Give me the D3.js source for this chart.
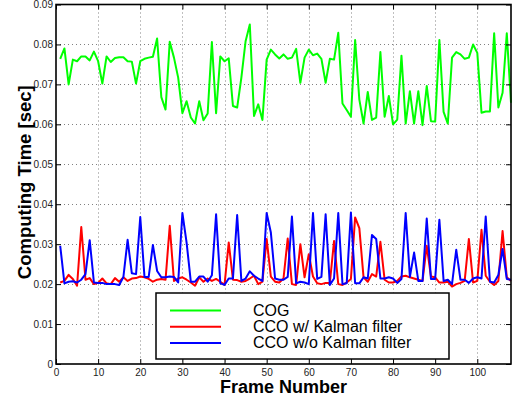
<!DOCTYPE html>
<html>
<head>
<meta charset="utf-8">
<script src="https://cdn.jsdelivr.net/npm/d3@7"></script>
<style>
  html, body { margin: 0; padding: 0; background: #fff; }
  svg { display: block; font-family: "Liberation Sans", Arial, Helvetica, sans-serif; }
</style>
</head>
<body>
<svg width="514" height="406"></svg>
<script>
// frame numbers 1..108
var frames = d3.range(1, 109);

var cog = [
  0.0764, 0.0790, 0.0700, 0.0762, 0.0758, 0.0770, 0.0770, 0.0760, 0.0782, 0.0758,
  0.0702, 0.0770, 0.0756, 0.0766, 0.0768, 0.0768, 0.0758, 0.0757, 0.0702, 0.0758,
  0.0764, 0.0767, 0.0769, 0.0815, 0.0668, 0.0637, 0.0807, 0.0767, 0.0717, 0.0628,
  0.0658, 0.0617, 0.0602, 0.0658, 0.0610, 0.0627, 0.0806, 0.0628, 0.0770, 0.0758,
  0.0765, 0.0646, 0.0642, 0.0717, 0.0808, 0.0850, 0.0621, 0.0650, 0.0611, 0.0762,
  0.0787, 0.0775, 0.0765, 0.0775, 0.0764, 0.0767, 0.0789, 0.0704, 0.0767, 0.0787,
  0.0773, 0.0777, 0.0764, 0.0704, 0.0764, 0.0762, 0.0829, 0.0652, 0.0636, 0.0619,
  0.0811, 0.0662, 0.0602, 0.0681, 0.0611, 0.0617, 0.0781, 0.0619, 0.0671, 0.0600,
  0.0612, 0.0772, 0.0602, 0.0683, 0.0602, 0.0683, 0.0598, 0.0696, 0.0608, 0.0607,
  0.0811, 0.0631, 0.0602, 0.0767, 0.0781, 0.0775, 0.0764, 0.0767, 0.0800, 0.0779,
  0.0629, 0.0632, 0.0632, 0.0828, 0.0642, 0.0679, 0.0828, 0.0654
];

var ccoKalman = [
  0.0204, 0.0208, 0.0223, 0.0213, 0.0196, 0.0343, 0.0211, 0.0215, 0.0200, 0.0203,
  0.0214, 0.0202, 0.0200, 0.0215, 0.0206, 0.0217, 0.0208, 0.0214, 0.0215, 0.0219,
  0.0217, 0.0213, 0.0206, 0.0211, 0.0213, 0.0211, 0.0346, 0.0208, 0.0214, 0.0217,
  0.0211, 0.0204, 0.0196, 0.0217, 0.0206, 0.0214, 0.0208, 0.0213, 0.0206, 0.0198,
  0.0304, 0.0211, 0.0210, 0.0206, 0.0208, 0.0214, 0.0221, 0.0200, 0.0206, 0.0313,
  0.0219, 0.0206, 0.0204, 0.0214, 0.0314, 0.0200, 0.0198, 0.0300, 0.0217, 0.0275,
  0.0219, 0.0202, 0.0200, 0.0203, 0.0203, 0.0308, 0.0200, 0.0198, 0.0204, 0.0213,
  0.0367, 0.0340, 0.0217, 0.0206, 0.0225, 0.0219, 0.0306, 0.0211, 0.0204, 0.0204,
  0.0208, 0.0219, 0.0221, 0.0217, 0.0214, 0.0211, 0.0208, 0.0296, 0.0219, 0.0217,
  0.0204, 0.0204, 0.0206, 0.0194, 0.0200, 0.0203, 0.0208, 0.0313, 0.0204, 0.0208,
  0.0336, 0.0221, 0.0206, 0.0198, 0.0208, 0.0333, 0.0217, 0.0208
];

var ccoNoKalman = [
  0.0296, 0.0202, 0.0206, 0.0207, 0.0204, 0.0211, 0.0225, 0.0310, 0.0204, 0.0203,
  0.0203, 0.0200, 0.0200, 0.0200, 0.0198, 0.0218, 0.0311, 0.0227, 0.0225, 0.0368,
  0.0218, 0.0218, 0.0298, 0.0233, 0.0217, 0.0217, 0.0219, 0.0218, 0.0204, 0.0378,
  0.0304, 0.0206, 0.0206, 0.0219, 0.0219, 0.0206, 0.0222, 0.0375, 0.0202, 0.0198,
  0.0214, 0.0214, 0.0373, 0.0208, 0.0214, 0.0232, 0.0221, 0.0214, 0.0208, 0.0378,
  0.0329, 0.0214, 0.0211, 0.0211, 0.0218, 0.0369, 0.0202, 0.0206, 0.0204, 0.0200,
  0.0378, 0.0213, 0.0218, 0.0375, 0.0198, 0.0214, 0.0378, 0.0200, 0.0202, 0.0379,
  0.0202, 0.0202, 0.0217, 0.0214, 0.0323, 0.0313, 0.0214, 0.0214, 0.0217, 0.0214,
  0.0203, 0.0213, 0.0378, 0.0218, 0.0279, 0.0208, 0.0208, 0.0364, 0.0213, 0.0213,
  0.0361, 0.0208, 0.0211, 0.0200, 0.0286, 0.0211, 0.0211, 0.0203, 0.0214, 0.0217,
  0.0214, 0.0369, 0.0206, 0.0204, 0.0223, 0.0288, 0.0213, 0.0211
];

var seriesNames = ["COG", "CCO w/ Kalman filter", "CCO w/o Kalman filter"];
var seriesColors = ["#00ff00", "#ff0000", "#0000ff"];

var xTicks = [0, 10, 20, 30, 40, 50, 60, 70, 80, 90, 100];
var yTicks = [0, 0.01, 0.02, 0.03, 0.04, 0.05, 0.06, 0.07, 0.08, 0.09];

var svg = d3.select("svg");
var plotLeft = 56, plotRight = 511, plotTop = 4.5, plotBottom = 364;

var x = d3.scaleLinear().domain([0, 108]).range([plotLeft, plotRight]);
var y = d3.scaleLinear().domain([0, 0.09]).range([plotBottom, plotTop]);

var yFmt = function(d) { return d === 0 ? "0" : d3.format(".2f")(d); };

// dotted grid
var grid = svg.append("g").attr("stroke", "#808080").attr("stroke-width", 1)
  .attr("stroke-dasharray", "1,3");
grid.selectAll(".gx").data(xTicks.slice(1)).enter().append("line")
  .attr("x1", d => Math.round(x(d)) + 0.5).attr("x2", d => Math.round(x(d)) + 0.5)
  .attr("y1", plotTop).attr("y2", plotBottom);
grid.selectAll(".gy").data(yTicks.slice(1, -1)).enter().append("line")
  .attr("x1", plotLeft).attr("x2", plotRight)
  .attr("y1", d => Math.round(y(d)) + 0.5).attr("y2", d => Math.round(y(d)) + 0.5);

// data lines
var allSeries = [cog, ccoKalman, ccoNoKalman];
var line = d3.line()
  .x((d, i) => x(frames[i]))
  .y(d => y(d));

svg.selectAll("path.series")
  .data(allSeries)
  .enter().append("path")
  .attr("class", "series")
  .attr("d", d => line(d))
  .attr("fill", "none")
  .attr("stroke", (d, i) => seriesColors[i])
  .attr("stroke-width", 2)
  .attr("stroke-linejoin", "round");

// axes, ticks point inward like matlab
function styleAxis(g) {
  g.select(".domain").remove();
  g.selectAll(".tick line").attr("stroke", "#000").attr("stroke-width", 1);
  g.selectAll(".tick text").attr("fill", "#222").style("font-size", "10px");
}

svg.append("g").attr("transform", "translate(0," + plotBottom + ")")
  .call(d3.axisBottom(x).tickValues(xTicks).tickSizeInner(-5).tickSizeOuter(0).tickPadding(5))
  .call(styleAxis);
svg.append("g").attr("transform", "translate(" + plotLeft + ",0)")
  .call(d3.axisLeft(y).tickValues(yTicks).tickFormat(yFmt).tickSizeInner(-5).tickSizeOuter(0).tickPadding(3))
  .call(styleAxis);
svg.append("g").attr("transform", "translate(0," + plotTop + ")")
  .call(d3.axisTop(x).tickValues(xTicks).tickFormat("").tickSizeInner(-5).tickSizeOuter(0))
  .call(styleAxis);
svg.append("g").attr("transform", "translate(" + plotRight + ",0)")
  .call(d3.axisRight(y).tickValues(yTicks).tickFormat("").tickSizeInner(-5).tickSizeOuter(0))
  .call(styleAxis);

// box
svg.append("rect")
  .attr("x", plotLeft).attr("y", plotTop)
  .attr("width", plotRight - plotLeft).attr("height", plotBottom - plotTop)
  .attr("fill", "none").attr("stroke", "#000").attr("stroke-width", 1.6);

// axis titles
svg.append("text")
  .attr("x", (plotLeft + plotRight) / 2).attr("y", 393)
  .attr("text-anchor", "middle")
  .style("font-size", "18px").style("font-weight", "bold")
  .text("Frame Number");
svg.append("text")
  .attr("transform", "translate(31," + ((plotTop + plotBottom) / 2 - 2) + ") rotate(-90)")
  .attr("text-anchor", "middle")
  .style("font-size", "18.5px").style("font-weight", "bold")
  .text("Computing Time [sec]");

// legend
var legend = svg.append("g");
legend.append("rect")
  .attr("x", 156).attr("y", 293).attr("width", 293).attr("height", 66)
  .attr("fill", "#fff").attr("stroke", "#000").attr("stroke-width", 1.5);
var items = legend.selectAll("g.item")
  .data(seriesNames)
  .enter().append("g")
  .attr("transform", (d, i) => "translate(0," + (310.5 + i * 16.2) + ")");
items.append("line")
  .attr("x1", 170).attr("x2", 221)
  .attr("stroke", (d, i) => seriesColors[i])
  .attr("stroke-width", 2);
items.append("text")
  .attr("x", 253).attr("y", 5.5)
  .style("font-size", "16px")
  .text(d => d);
</script>
</body>
</html>
